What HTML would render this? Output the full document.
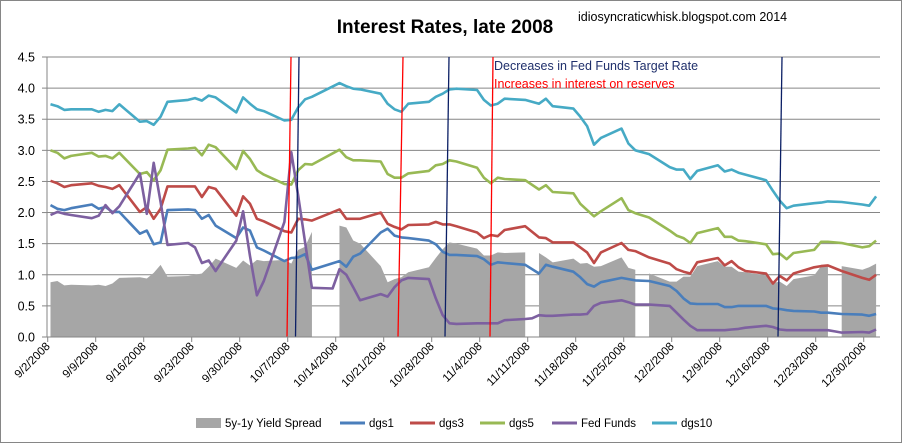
<!DOCTYPE html>
<html><head><meta charset="utf-8"><style>
html,body{margin:0;padding:0;background:#fff}
svg{display:block;font-family:"Liberation Sans",sans-serif}
</style></head><body>
<svg id="chart" width="903" height="444" viewBox="0 0 903 444">
<rect x="0.5" y="0.5" width="901" height="442" fill="#fff" stroke="#868686"/>
<text x="445" y="33" text-anchor="middle" font-size="19" font-weight="bold">Interest Rates, late 2008</text>
<text x="578" y="21" font-size="12.5">idiosyncraticwhisk.blogspot.com  2014</text>
<g id="grid"></g><g id="area"></g><g id="lines"></g><g id="ann"></g><g id="axes"></g><g id="legend"></g>
</svg>
<script>
const days=[0,1,2,3,6,7,8,9,10,13,14,15,16,17,20,21,22,23,24,27,28,29,30,31,34,35,36,37,38,41,42,43,44,45,48,49,50,51,52,55,56,57,58,59,62,63,64,65,66,69,70,71,72,73,76,77,78,79,80,83,84,85,86,87,90,91,92,93,94,97,98,99,100,101,104,105,106,107,108,111,112,113,114,115,118,119,120];
const dgs10=[3.74,3.71,3.65,3.66,3.66,3.62,3.65,3.63,3.74,3.46,3.47,3.41,3.54,3.78,3.81,3.84,3.80,3.88,3.85,3.61,3.85,
3.75,3.66,3.63,3.48,3.49,3.69,3.82,3.86,null,4.08,4.03,3.99,3.98,3.91,3.75,3.66,3.62,3.75,3.78,3.86,3.91,3.98,3.99,
3.97,3.81,3.72,3.75,3.83,3.81,null,3.75,3.83,3.71,3.67,3.54,3.39,3.09,3.20,3.35,3.11,3.00,null,2.94,
2.73,2.69,2.69,2.54,2.67,2.76,2.66,2.69,2.64,2.61,2.52,2.35,2.19,2.07,2.11,2.15,2.16,2.18,null,2.17,2.13,2.11,2.26];
const dgs5=[3.00,2.96,2.87,2.91,2.96,2.90,2.91,2.87,2.96,2.62,2.65,2.52,2.68,3.01,3.03,3.04,2.92,3.09,3.05,2.70,2.99,
2.86,2.68,2.61,2.46,2.45,2.68,2.78,2.77,null,3.01,2.89,2.84,2.84,2.82,2.62,2.56,2.56,2.63,2.67,2.76,2.78,2.84,2.82,
2.72,2.56,2.47,2.56,2.54,2.52,null,2.37,2.44,2.33,2.31,2.14,2.04,1.94,2.02,2.23,2.04,1.99,null,1.92,
1.71,1.63,1.59,1.51,1.67,1.75,1.61,1.61,1.55,1.54,1.49,1.33,1.34,1.25,1.35,1.40,1.53,1.53,null,1.51,1.44,1.46,1.55];
const dgs3=[2.51,2.47,2.41,2.44,2.47,2.43,2.41,2.38,2.44,2.01,2.09,1.90,2.06,2.42,2.42,2.42,2.25,2.41,2.38,1.95,2.26,
2.14,1.90,1.86,1.70,1.68,1.90,1.89,1.87,null,2.05,1.90,1.90,1.90,2.00,1.82,1.77,1.73,1.80,1.81,1.85,1.81,1.81,1.78,
1.68,1.59,1.64,1.62,1.72,1.78,null,1.60,1.59,1.52,1.52,1.44,1.36,1.19,1.36,1.51,1.40,1.38,null,1.28,
1.18,1.09,1.05,1.02,1.20,1.27,1.15,1.22,1.12,1.06,1.02,0.86,0.98,0.91,1.02,1.12,1.14,1.15,null,1.06,0.95,0.92,1.00];
const dgs1=[2.12,2.06,2.04,2.07,2.13,2.06,2.09,2.01,2.01,1.66,1.71,1.49,1.52,2.04,2.05,2.04,1.90,1.96,1.79,1.59,1.76,
1.71,1.44,1.39,1.22,1.27,1.28,1.33,1.08,null,1.22,1.13,1.29,1.34,1.68,1.74,1.63,1.60,1.59,1.55,1.49,1.37,1.32,1.32,
1.30,1.25,1.16,1.20,1.19,1.16,null,1.02,1.16,1.13,1.05,0.96,0.85,0.81,0.88,0.95,0.93,0.91,null,0.90,
0.82,0.74,0.62,0.54,0.53,0.53,0.48,0.48,0.50,0.50,0.50,0.46,0.45,0.43,0.42,0.41,0.39,0.39,null,0.37,0.36,0.34,0.37];
const fedFunds=[1.96,2.01,1.98,1.96,1.91,1.95,2.12,1.99,2.10,2.63,1.98,2.80,2.17,1.48,1.51,1.44,1.19,1.23,1.06,1.55,2.02,
1.30,0.67,0.90,1.85,2.97,2.27,1.52,0.79,0.78,1.09,1.00,0.80,0.59,0.69,0.65,0.80,0.91,0.95,0.93,0.62,0.35,0.22,0.21,
0.22,0.22,0.22,0.22,0.27,0.29,0.30,0.35,0.34,0.34,0.36,0.36,0.37,0.50,0.55,0.59,0.56,0.52,0.52,0.52,
0.50,0.39,0.28,0.18,0.11,0.11,0.11,0.12,0.13,0.15,0.18,0.16,0.12,0.11,0.11,0.11,0.11,0.11,0.09,0.07,0.08,0.07,0.12];
const spread=[0.88,0.90,0.83,0.84,0.83,0.84,0.82,0.86,0.95,0.96,0.94,1.03,1.16,0.97,0.98,1.00,1.02,1.13,1.26,1.11,1.23,
1.15,1.24,1.22,1.24,1.18,1.40,1.45,1.69,null,1.79,1.76,1.55,1.50,1.14,0.88,0.93,0.96,1.04,1.12,1.27,1.41,1.52,1.50,
1.42,1.31,1.31,1.36,1.35,1.36,null,1.35,1.28,1.20,1.26,1.18,1.19,1.13,1.14,1.28,1.11,1.08,null,1.02,
0.89,0.89,0.97,0.97,1.14,1.22,1.13,1.13,1.05,1.04,0.99,0.87,0.89,0.82,0.93,0.99,1.14,1.14,null,1.14,1.08,1.12,1.18];
const yTicks=[0,0.5,1,1.5,2,2.5,3,3.5,4,4.5];
const yTickLabels=["0.0","0.5","1.0","1.5","2.0","2.5","3.0","3.5","4.0","4.5"];
const xTickLabels=["9/2/2008","9/9/2008","9/16/2008","9/23/2008","9/30/2008","10/7/2008","10/14/2008","10/21/2008","10/28/2008","11/4/2008","11/11/2008","11/18/2008","11/25/2008","12/2/2008","12/9/2008","12/16/2008","12/23/2008","12/30/2008"];
const legendLabels=["5y-1y Yield Spread","dgs1","dgs3","dgs5","Fed Funds","dgs10"];

const NS="http://www.w3.org/2000/svg";
const L=47,R=880,T=57,B=337;
const xDay=d=>50.5+d*6.88;
const xTick=i=>47.7+i*48;
const yV=v=>B-v*(B-T)/4.5;
function mk(tag,attrs,parent){const e=document.createElementNS(NS,tag);for(const k in attrs)e.setAttribute(k,attrs[k]);parent.appendChild(e);return e;}
const g=id=>document.getElementById(id);

yTicks.forEach((v,i)=>{
  const ln=mk('line',{x1:L,x2:R,y1:yV(v),y2:yV(v),stroke:'#868686','stroke-width':1},g('grid'));
  
  
  const t=mk('text',{x:35,y:yV(v)+4.5,'text-anchor':'end','font-size':12.5},g('axes'));
  t.textContent=yTickLabels[i];
  
  
  const tk=mk('line',{x1:L-5,x2:L,y1:yV(v),y2:yV(v),stroke:'#868686'},g('axes'));
  
  
});
const ya=mk('line',{x1:L,x2:L,y1:T,y2:B,stroke:'#868686'},g('axes'));



// area with gaps
let seg=[];
const segs=[];
spread.forEach((v,i)=>{if(v===null){if(seg.length)segs.push(seg);seg=[];}else seg.push([xDay(days[i]),yV(v)]);});
if(seg.length)segs.push(seg);
segs.forEach(s=>{
  const pts=s.map(p=>p.join(',')).join(' ')+' '+s[s.length-1][0]+','+B+' '+s[0][0]+','+B;
  const p=mk('polygon',{points:pts,fill:'#a6a6a6'},g('area'));
  
  
});

const series=[[dgs1,'#4A7EBB','dgs1-line'],[dgs3,'#BE4B48','dgs3-line'],[dgs5,'#98B954','dgs5-line'],[fedFunds,'#7D60A0','fed-funds-line'],[dgs10,'#46AAC5','dgs10-line']];
series.forEach(([arr,col,name])=>{
  const pts=[];arr.forEach((v,i)=>{if(v!==null)pts.push(xDay(days[i]).toFixed(1)+','+yV(v).toFixed(1));});
  const pl=mk('polyline',{points:pts.join(' '),fill:'none',stroke:col,'stroke-width':2.6,'stroke-linejoin':'round'},g('lines'));
  
  
});

// annotation lines
[[291,287,'red','iorr-increase-line'],[299,295.5,'#0b1f65','fed-cut-line'],[403,398,'red','iorr-increase-line'],[449,445,'#0b1f65','fed-cut-line'],[493,490,'red','iorr-increase-line'],[782,778,'#0b1f65','fed-cut-line']].forEach(([x1,x2,c,n])=>{
  const l=mk('line',{x1:x1,y1:T,x2:x2,y2:B,stroke:c,'stroke-width':1.3},g('ann'));
  
  
});
const a1=mk('text',{x:494,y:70,'font-size':12.5,fill:'#1f2f6b'},g('ann'));
a1.textContent='Decreases in Fed Funds Target Rate';


const a2=mk('text',{x:494,y:88,'font-size':12.5,fill:'#ff0000'},g('ann'));
a2.textContent='Increases in interest on reserves';



// x axis
const xa=mk('line',{x1:L,x2:R,y1:B,y2:B,stroke:'#868686'},g('axes'));


xTickLabels.forEach((lab,i)=>{
  const x=xTick(i);
  const tk=mk('line',{x1:x,x2:x,y1:B,y2:B+5,stroke:'#868686'},g('axes'));
  
  
  const t=mk('text',{x:x+3,y:B+10,'text-anchor':'end','font-size':11.5,transform:`rotate(-45 ${x+3} ${B+10})`},g('axes'));
  t.textContent=lab;
  
  
});

// legend
const lx=[196,340,410,480,552,652];
const lc=['#a6a6a6','#4A7EBB','#BE4B48','#98B954','#7D60A0','#46AAC5'];
legendLabels.forEach((lab,i)=>{
  const grp=mk('g',{},g('legend'));
  
  
  if(i===0)mk('rect',{x:lx[i],y:418,width:25,height:10,fill:lc[i]},grp);
  else mk('line',{x1:lx[i],x2:lx[i]+25,y1:423,y2:423,stroke:lc[i],'stroke-width':3},grp);
  const t=mk('text',{x:lx[i]+29,y:427,'font-size':11.5},grp);
  t.textContent=lab;
});
</script>
</body></html>
